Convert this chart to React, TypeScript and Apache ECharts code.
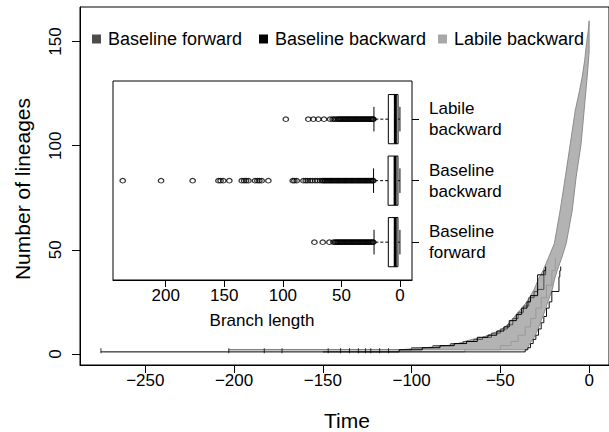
import React, { useEffect, useRef } from 'react';
import * as echarts from 'echarts';

const FONT = '"Liberation Sans", Arial, Helvetica, sans-serif';

// axis ticks
const timeTicks = [-250, -200, -150, -100, -50, 0];
const lineageTicks = [0, 50, 100, 150];
const branchTicks = [0, 50, 100, 150, 200];

// inset categories (bottom to top)
const groups = ['Baseline forward', 'Baseline backward', 'Labile backward'];

// boxplot stats: [lower whisker, Q1, median, Q3, upper whisker]
const statsForward = [0.1, 1.8, 4.1, 10.0, 22.2];
const statsBackward = [0.1, 1.8, 4.2, 10.2, 22.6];
const statsLabile = [0.1, 1.7, 4.0, 10.0, 22.3];

// outliers (branch lengths)
const outForward = [73.1, 66.0, 60.3, 56.9, 55.5, 54.5, 53.5, 52.5, 51.5, 50.5, 49.5, 48.5, 47.5, 46.5, 45.5, 44.5, 43.5, 42.5, 41.5, 40.5, 39.5, 38.5, 37.5, 36.5, 35.5, 34.5, 33.5, 32.5, 31.5, 30.5, 29.5, 28.5, 27.5, 26.5, 25.5, 24.5, 23.5, 22.8];
const outBackward = [236.7, 204.0, 177.0, 155.0, 153.2, 150.9, 145.7, 135.1, 133.1, 131.4, 129.4, 123.8, 121.8, 120.1, 118.1, 112.4, 91.6, 90.2, 88.2, 82.5, 80.5, 78.8, 76.8, 74.8, 72.5, 70.5, 68.3, 66.5, 65.5, 64.5, 63.5, 62.5, 61.5, 60.5, 59.5, 58.5, 57.5, 56.5, 55.5, 54.5, 53.5, 52.5, 51.5, 50.5, 49.5, 48.5, 47.5, 46.5, 45.5, 44.5, 43.5, 42.5, 41.5, 40.5, 39.5, 38.5, 37.5, 36.5, 35.5, 34.5, 33.5, 32.5, 31.5, 30.5, 29.5, 28.5, 27.5, 26.5, 25.5, 24.5, 23.5, 22.8];
const outLabile = [97.5, 78.3, 74.0, 69.7, 64.9, 59.7, 57.5, 56.0, 54.5, 53.0, 52.0, 51.0, 50.0, 49.0, 48.0, 47.0, 46.0, 45.0, 44.0, 43.0, 42.0, 41.0, 40.0, 39.0, 38.0, 37.0, 36.0, 35.0, 34.0, 33.0, 32.0, 31.0, 30.0, 29.0, 28.0, 27.0, 26.0, 25.0, 24.0, 23.0, 22.8];

// envelope of the lineage-through-time curves: [time, lineages]
const bandUpper = [[-107, 2], [-92, 3], [-80, 4], [-74, 5], [-66, 7], [-60, 8], [-54, 10], [-50, 11.5], [-46, 14], [-44, 16], [-40, 20], [-36, 24], [-33, 28], [-31, 31], [-28.5, 36], [-26, 40], [-23, 46], [-19.6, 53], [-16.3, 69], [-13.4, 85], [-10.6, 101], [-7.8, 117], [-5.5, 126], [-3.9, 133], [-2.5, 141], [-1.5, 149], [-0.5, 155], [0, 160]];
const bandLower = [[0, 145], [-1.1, 133], [-2.8, 117], [-4.5, 101], [-7.3, 85], [-9.5, 69], [-12.9, 53], [-15.5, 46], [-18, 40], [-19.6, 35.5], [-20.7, 31], [-23.5, 24.5], [-25, 20.5], [-27, 16], [-29, 11.5], [-31, 8], [-33, 5.5], [-34, 4], [-35, 2]];

// individual step curves (early part, before they merge into the band)
const curveForward = [[-203, 2], [-100, 3], [-88, 4], [-78, 5], [-71, 6], [-65, 7], [-60, 8], [-55, 10], [-50, 12], [-46, 14], [-43, 17], [-40, 20], [-37, 23], [-34, 27], [-31, 30], [-29, 31], [-25.5, 38], [-24.5, 40]];
const curveBackwardRoot = [[-275, 1], [-107, 2], [-94, 3], [-84, 4], [-76, 5], [-69, 6], [-63, 8], [-57, 9], [-52, 11], [-48, 13], [-45, 16], [-41, 19], [-38, 22], [-35, 25], [-33, 28], [-29, 38], [-25.5, 40], [-24.5, 42]];
const curveBackwardLate = [[-150, 1], [-36, 2], [-34.5, 3], [-33, 5], [-31.5, 7], [-30, 9], [-28.5, 12], [-27, 15], [-25.5, 18], [-24, 22], [-22.5, 25], [-21, 30], [-17, 37], [-16.5, 40], [-16, 42]];
const curveLabile = [[-130, 1], [-70, 2], [-50, 4], [-44, 6], [-40, 9], [-36, 13], [-33, 17], [-30, 22], [-27, 27], [-24, 33], [-21, 40], [-19, 46]];
const rootTimes = [-275, -203, -183, -173, -147, -140, -135, -130, -126, -123, -118, -113];

export default function App() {
  const ref = useRef<HTMLDivElement>(null);

  useEffect(() => {
    const chart = echarts.init(ref.current as HTMLDivElement, null, { renderer: 'svg' });
    const bandPoly = [...bandUpper, ...bandLower];
    const tickStyle = { color: '#000', width: 1 };
    const labelBase = { fontSize: 17, color: '#000', fontFamily: FONT };
    const minus = (v: number) => String(v).replace('-', '\u2212');

    const boxData = [
      [0, ...statsForward],
      [1, ...statsBackward],
      [2, ...statsLabile],
    ];
    const outData = [
      ...outForward.map((v) => [v, 0]),
      ...outBackward.map((v) => [v, 1]),
      ...outLabile.map((v) => [v, 2]),
    ];

    const stepLine = (name: string, data: number[][], color: string, width = 1) => ({
      type: 'line',
      name,
      xAxisIndex: 0,
      yAxisIndex: 0,
      data,
      step: 'end',
      symbol: 'none',
      showSymbol: false,
      color,
      lineStyle: { color, width },
      z: 3,
    });

    const option: any = {
      animation: false,
      backgroundColor: '#fff',
      textStyle: { fontFamily: FONT },
      grid: [
        { left: 80, top: 7, width: 532, height: 358, show: true, borderColor: '#000', borderWidth: 1, backgroundColor: 'transparent', containLabel: false },
        { left: 113, top: 81, width: 299, height: 199, show: true, borderColor: '#000', borderWidth: 1, backgroundColor: '#fff', containLabel: false },
        { left: 113, top: 88.4, width: 299, height: 184.5, containLabel: false },
      ],
      xAxis: [
        {
          gridIndex: 0, type: 'value', min: -286.8, max: 11.2,
          axisLine: { show: true, onZero: false, lineStyle: tickStyle },
          axisTick: { show: true, length: 8, customValues: timeTicks, lineStyle: tickStyle },
          axisLabel: { ...labelBase, customValues: timeTicks, formatter: minus, margin: 7 },
          splitLine: { show: false },
        },
        {
          gridIndex: 1, type: 'value', inverse: true, min: -10.2, max: 245,
          axisLine: { show: true, onZero: false, lineStyle: tickStyle },
          axisTick: { show: true, length: 7, customValues: branchTicks, lineStyle: tickStyle },
          axisLabel: { ...labelBase, customValues: branchTicks, margin: 7 },
          splitLine: { show: false },
        },
        { gridIndex: 2, type: 'value', inverse: true, min: -10.2, max: 245, show: false, splitLine: { show: false } },
      ],
      yAxis: [
        {
          gridIndex: 0, type: 'value', min: -5.3, max: 166.6,
          axisLine: { show: true, onZero: false, lineStyle: tickStyle },
          axisTick: { show: true, length: 8, customValues: lineageTicks, lineStyle: tickStyle },
          axisLabel: { ...labelBase, customValues: lineageTicks, rotate: 90, align: 'center', verticalAlign: 'middle', margin: 25 },
          splitLine: { show: false },
        },
        { gridIndex: 1, type: 'value', min: 0, max: 1, show: false, splitLine: { show: false } },
        {
          gridIndex: 2, type: 'category', data: groups, position: 'right',
          axisLine: { show: false, onZero: false },
          axisTick: { show: true, alignWithLabel: true, length: 7, lineStyle: tickStyle, interval: 0 },
          axisLabel: { ...labelBase, interval: 0, formatter: (v: string) => v.replace(' ', '\n'), lineHeight: 21, align: 'left', margin: 17 },
          splitLine: { show: false },
        },
      ],
      legend: [
        { left: 92, top: 30, padding: 0, itemWidth: 9, itemHeight: 9, selectedMode: false, textStyle: { fontSize: 18, color: '#000', fontFamily: FONT, padding: [0, 0, 0, 2] }, data: [{ name: 'Baseline forward', icon: 'rect', itemStyle: { color: '#4d4d4d' } }] },
        { left: 259, top: 30, padding: 0, itemWidth: 9, itemHeight: 9, selectedMode: false, textStyle: { fontSize: 18, color: '#000', fontFamily: FONT, padding: [0, 0, 0, 2] }, data: [{ name: 'Baseline backward', icon: 'rect', itemStyle: { color: '#000' } }] },
        { left: 438, top: 30, padding: 0, itemWidth: 9, itemHeight: 9, selectedMode: false, textStyle: { fontSize: 18, color: '#000', fontFamily: FONT, padding: [0, 0, 0, 2] }, data: [{ name: 'Labile backward', icon: 'rect', itemStyle: { color: '#a8a8a8' } }] },
      ],
      graphic: [
        { type: 'text', x: 347, y: 420, z: 100, style: { text: 'Time', fontSize: 21, fontFamily: FONT, fill: '#000', align: 'center', verticalAlign: 'middle' } },
        { type: 'text', x: 22, y: 189, rotation: Math.PI / 2, z: 100, style: { text: 'Number of lineages', fontSize: 21, fontFamily: FONT, fill: '#000', align: 'center', verticalAlign: 'middle' } },
        { type: 'text', x: 262, y: 320, z: 100, style: { text: 'Branch length', fontSize: 17, fontFamily: FONT, fill: '#000', align: 'center', verticalAlign: 'middle' } },
      ],
      series: [
        {
          type: 'custom',
          name: 'Labile backward',
          xAxisIndex: 0,
          yAxisIndex: 0,
          color: '#a8a8a8',
          data: bandPoly,
          clip: true,
          z: 2,
          renderItem: (params: any, api: any) => {
            if (params.dataIndex !== 0) return null;
            const pts = bandPoly.map((p) => api.coord(p));
            return { type: 'polygon', shape: { points: pts }, style: { fill: '#b3b3b3', stroke: '#858585', lineWidth: 0.9 } };
          },
        },
        stepLine('Labile backward', curveLabile, '#9a9a9a'),
        stepLine('Baseline forward', curveForward, '#4d4d4d'),
        stepLine('Baseline backward', curveBackwardRoot, '#000'),
        stepLine('Baseline backward', curveBackwardLate, '#111'),
        {
          type: 'scatter',
          name: 'roots',
          xAxisIndex: 0,
          yAxisIndex: 0,
          data: rootTimes.map((t) => [t, 1.6]),
          symbol: 'rect',
          symbolSize: [1, 5],
          itemStyle: { color: '#000' },
          z: 4,
        },
        {
          type: 'custom',
          name: 'box',
          xAxisIndex: 2,
          yAxisIndex: 2,
          data: boxData,
          encode: { x: [1, 2, 3, 4, 5], y: 0 },
          z: 5,
          renderItem: (params: any, api: any) => {
            const idx = api.value(0);
            const pLo = api.coord([api.value(1), idx]);
            const pQ1 = api.coord([api.value(2), idx]);
            const pMed = api.coord([api.value(3), idx]);
            const pQ3 = api.coord([api.value(4), idx]);
            const pHi = api.coord([api.value(5), idx]);
            const band = api.size([0, 1])[1];
            const half = band * 0.4;
            const st = half * 0.5;
            const cy = pLo[1];
            const black = '#000';
            return {
              type: 'group',
              children: [
                { type: 'line', shape: { x1: pQ3[0], y1: cy, x2: pHi[0], y2: cy }, style: { stroke: black, lineWidth: 1, lineDash: [3, 2] } },
                { type: 'line', shape: { x1: pQ1[0], y1: cy, x2: pLo[0], y2: cy }, style: { stroke: black, lineWidth: 1, lineDash: [3, 2] } },
                { type: 'line', shape: { x1: pHi[0], y1: cy - st, x2: pHi[0], y2: cy + st }, style: { stroke: black, lineWidth: 1 } },
                { type: 'line', shape: { x1: pLo[0], y1: cy - st, x2: pLo[0], y2: cy + st }, style: { stroke: black, lineWidth: 1 } },
                { type: 'rect', shape: { x: Math.min(pQ1[0], pQ3[0]), y: cy - half, width: Math.abs(pQ1[0] - pQ3[0]), height: 2 * half }, style: { fill: '#fff', stroke: black, lineWidth: 1 } },
                { type: 'line', shape: { x1: pMed[0], y1: cy - half, x2: pMed[0], y2: cy + half }, style: { stroke: black, lineWidth: 3 } },
              ],
            };
          },
        },
        {
          type: 'scatter',
          name: 'outliers',
          xAxisIndex: 2,
          yAxisIndex: 2,
          data: outData,
          symbol: 'circle',
          symbolSize: [5.4, 4.6],
          itemStyle: { color: 'rgba(0,0,0,0)', borderColor: '#000', borderWidth: 1.2 },
          z: 5,
        },
      ],
    };

    chart.setOption(option);
    return () => chart.dispose();
  }, []);

  return <div ref={ref} style={{ position: 'fixed', left: 0, top: 0, width: 609, height: 432, background: '#fff' }} />;
}
